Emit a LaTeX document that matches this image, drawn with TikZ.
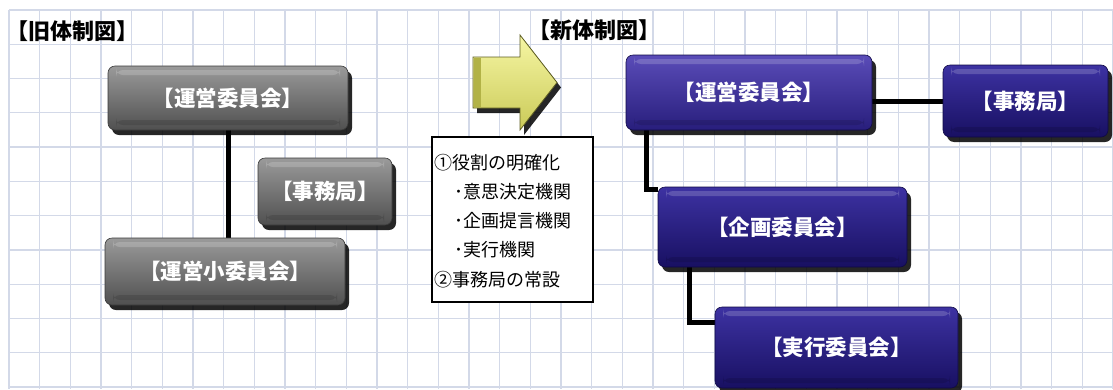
\documentclass[tikz,border=0pt]{standalone}
\usepackage{fontspec}
\newfontfamily\jp{Noto Sans CJK JP}
\usetikzlibrary{shadows,backgrounds,calc}
\definecolor{gridc}{HTML}{D3D9E8}
\definecolor{grayT}{HTML}{9A9A9A}
\definecolor{grayM}{HTML}{6C6C6C}
\definecolor{grayB}{HTML}{505050}
\definecolor{grayE}{HTML}{3A3A3A}
\definecolor{purLT}{HTML}{5A4CB8}
\definecolor{purLM}{HTML}{3A2D96}
\definecolor{purLB}{HTML}{281E7C}
\definecolor{purDT}{HTML}{3D32A2}
\definecolor{purDM}{HTML}{231A7C}
\definecolor{purDB}{HTML}{181062}
\definecolor{purE}{HTML}{100A45}
\definecolor{yelT}{HTML}{F6F6A4}
\definecolor{yelM}{HTML}{FBFBC0}
\definecolor{yelB}{HTML}{CACA58}
\definecolor{yelS}{HTML}{B2B246}
\definecolor{yelE}{HTML}{5E5E22}
\tikzset{
  gridline/.style={draw=gridc, line width=1.3pt},
  shadowed/.style={drop shadow={shadow xshift=4pt, shadow yshift=-5pt, opacity=0.85, fill=black}},
  hilite/.style={path picture={
      \fill[white,opacity=0.18] ([xshift=8pt,yshift=-4pt]path picture bounding box.north west) rectangle ([xshift=-8pt,yshift=-9pt]path picture bounding box.north east);
      \fill[black,opacity=0.12] ([xshift=8pt,yshift=5pt]path picture bounding box.south west) rectangle ([xshift=-8pt,yshift=10pt]path picture bounding box.south east);}},
  boxbase/.style={rounded corners=7pt, line width=0.6pt, inner sep=0pt, shadowed, hilite,
      text=white, font=\jp\bfseries\fontsize{21.5}{21.5}\selectfont},
  oldbox/.style={boxbase, draw=grayE, top color=grayT, middle color=grayM, bottom color=grayB},
  newboxL/.style={boxbase, draw=purE, top color=purLT, middle color=purLM, bottom color=purLB},
  newboxD/.style={boxbase, draw=purE, top color=purDT, middle color=purDM, bottom color=purDB},
  conn/.style={draw=black, line width=5pt},
  titletext/.style={inner sep=0pt, font=\jp\bfseries\fontsize{22}{22}\selectfont},
  notetext/.style={inner sep=0pt, anchor=west, font=\jp\fontsize{18}{18}\selectfont},
  notebox/.style={draw=black, line width=2pt, fill=white, inner sep=0pt},
  arrowbody/.style={draw=yelE, line width=0.8pt, top color=yelT, middle color=yelM, bottom color=yelB, shadowed}
}
\begin{document}
\begin{tikzpicture}[x=1pt,y=-1pt]
\useasboundingbox (0,0) rectangle (1113,389);

% titles
\node[titletext] (oldtitle) at (72,31) {【旧体制図】};
\node[titletext] (newtitle) at (594,30) {【新体制図】};

% old structure
\node[oldbox, minimum width=240pt, minimum height=64pt] (oldunei) at (228,98) {【運営委員会】};
\node[oldbox, minimum width=134pt, minimum height=67pt] (oldjimu) at (325,191.5) {【事務局】};
\node[oldbox, minimum width=240pt, minimum height=67pt] (oldsho) at (225,271.5) {【運営小委員会】};

% arrow
\path[arrowbody] (473,57) -- (520,57) -- (520,35) -- (557,82.5) -- (520,130) -- (520,108) -- (473,108) -- cycle;
\fill[yelS] (474,58) rectangle (481,107);

% notes
\node[notebox, minimum width=161pt, minimum height=165pt] (notes) at (512.5,219.5) {};
\node[notetext] (n1) at (434,163) {①役割の明確化};
\node[notetext] (n2) at (454,192) {･意思決定機関};
\node[notetext] (n3) at (454,221) {･企画提言機関};
\node[notetext] (n4) at (454,250) {･実行機関};
\node[notetext] (n5) at (434,280) {②事務局の常設};

% new structure
\node[newboxL, minimum width=246pt, minimum height=75pt] (newunei) at (749,92.5) {【運営委員会】};
\node[newboxD, minimum width=165pt, minimum height=72pt] (newjimu) at (1025.5,101) {【事務局】};
\node[newboxD, minimum width=249pt, minimum height=80pt] (kikaku) at (782.5,227) {【企画委員会】};
\node[newboxD, minimum width=243pt, minimum height=81pt] (jikko) at (836.5,347.5) {【実行委員会】};

\begin{scope}[on background layer]
  \fill[white] (0,0) rectangle (1113,389);
  \foreach \k in {0,...,36} \draw[gridline] ({9+30.67*\k},10) -- ({9+30.67*\k},389);
  \foreach \k in {0,...,11} \draw[gridline] (9,{10+34.27*\k}) -- (1113,{10+34.27*\k});
  \draw[conn] (oldunei.south) -- (oldunei.south |- oldsho.north);
  \draw[conn] (newunei.east |- newjimu.west) -- (newjimu.west);
  \draw[conn] ([xshift=21pt]newunei.south west) |- ([yshift=-3pt]kikaku.north west);
  \draw[conn] ([xshift=32pt]kikaku.south west) |- ([yshift=-16pt]jikko.north west);
\end{scope}
\end{tikzpicture}
\end{document}
